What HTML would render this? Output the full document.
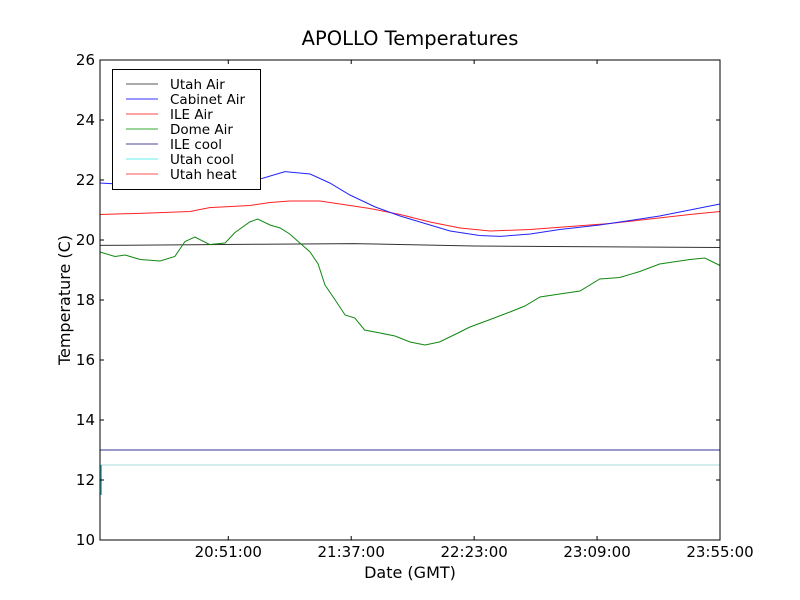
<!DOCTYPE html>
<html><head><meta charset="utf-8"><style>
body{margin:0;background:#fff}
svg{display:block;font-family:"DejaVu Sans","Liberation Sans",sans-serif}
</style></head><body>
<svg id="chart" width="800" height="600">
<rect width="800" height="600" fill="#fff"/>
<text x="410" y="45" font-size="19.5" text-anchor="middle">APOLLO Temperatures</text>
<text x="410" y="578" font-size="16" text-anchor="middle">Date (GMT)</text>
<text transform="translate(70,300) rotate(-90)" font-size="16" text-anchor="middle">Temperature (C)</text>
<g id="series"></g>
<g id="axes"></g>
<rect x="100" y="60" width="620" height="480" fill="none" stroke="#000" stroke-width="1"/>
<g>
<rect x="112.5" y="69.5" width="148" height="120" fill="#fff" stroke="#000"/>
<g id="legend" font-size="13.5"></g>
</g>
</svg>
<script>
const yTicks=[10,12,14,16,18,20,22,24,26];
const xTickMinutes=[48,94,140,186,232];
const xTickLabels=["20:51:00","21:37:00","22:23:00","23:09:00","23:55:00"];
const utahAirT=[0,60,95,140,232];
const utahAirV=[19.82,19.86,19.88,19.8,19.75];
const cabinetT=[0,4,20,60.6,69.2,78.6,86,93.5,103,112.3,123.5,131,142,149.7,161,172,187,198.3,209.4,220.7,232];
const cabinetV=[21.9,21.88,21.9,22.05,22.28,22.2,21.9,21.5,21.1,20.8,20.5,20.3,20.15,20.12,20.2,20.35,20.5,20.65,20.8,21.0,21.2];
const ileAirT=[0,18.7,33.7,41,56,63.6,71,82.3,89.8,101,112.3,123.5,134.7,146,161,175.8,190.8,205.8,220.7,232];
const ileAirV=[20.85,20.9,20.95,21.08,21.15,21.25,21.3,21.3,21.2,21.05,20.85,20.6,20.4,20.3,20.35,20.45,20.55,20.7,20.85,20.95];
const domeT=[0,5.6,9.4,15,22.5,28,31.8,35.5,41,46.8,50.5,56,59,63.6,67.4,71,74.8,78.6,81.6,84.2,88,91.7,95.4,99,104.8,110.4,116,121.6,127,132.8,138.4,146,153.4,159,164.6,172,179.6,187,194.5,202,209.4,220.7,226.3,232];
const domeV=[19.6,19.45,19.5,19.35,19.3,19.45,19.95,20.1,19.85,19.9,20.25,20.6,20.7,20.5,20.4,20.2,19.9,19.6,19.2,18.5,18.0,17.5,17.4,17.0,16.9,16.8,16.6,16.5,16.6,16.85,17.1,17.35,17.6,17.8,18.1,18.2,18.3,18.7,18.75,18.95,19.2,19.35,19.4,19.15];
const ileCoolT=[0,232];
const ileCoolV=[13,13];
const utahCoolT=[0,0,232];
const utahCoolV=[11.5,12.5,12.5];
const legendLabels=["Utah Air","Cabinet Air","ILE Air","Dome Air","ILE cool","Utah cool","Utah heat"];
const legendColors=["#555","#3333ff","#ff4444","#33aa33","#444499","#66eeee","#ff5555"];

const NS="http://www.w3.org/2000/svg";
const X0=100,X1=720,Y0=540,Y1=60,TMAX=232,VMIN=10,VMAX=26;
const xs=t=>X0+(t/TMAX)*(X1-X0);
const ys=v=>Y0-(v-VMIN)/(VMAX-VMIN)*(Y0-Y1);
function mk(tag,attrs,parent){const e=document.createElementNS(NS,tag);for(const k in attrs)e.setAttribute(k,attrs[k]);parent.appendChild(e);return e;}
const axes=document.getElementById('axes');
yTicks.forEach(v=>{
  const y=ys(v);
  const l=mk('path',{d:`M100,${y}h4M720,${y}h-4`,stroke:'#000'},axes);
  
  
  const t=mk('text',{x:95,y:y+5,'font-size':15,'text-anchor':'end'},axes);
  t.textContent=v;
  
  
});
xTickMinutes.forEach((m,i)=>{
  const x=xs(m);
  const l=mk('path',{d:`M${x},540v-4M${x},60v4`,stroke:'#000'},axes);
  
  
  const t=mk('text',{x:x,y:557,'font-size':15,'text-anchor':'middle'},axes);
  t.textContent=xTickLabels[i];
  
  
});
const g=document.getElementById('series');
function line(T,V,color,name,w){
  const d=T.map((t,i)=>(i?'L':'M')+xs(t).toFixed(1)+','+ys(V[i]).toFixed(1)).join('');
  const p=mk('path',{d:d,fill:'none',stroke:color,'stroke-width':w||1},g);
  
  
}
line(utahCoolT,utahCoolV,'#aadddd','utah-cool-line');
line(ileCoolT,ileCoolV,'#333399','ile-cool-line');
line(utahAirT,utahAirV,'#333','utah-air-line');
line(domeT,domeV,'#118811','dome-air-line');
line(ileAirT,ileAirV,'#ff2222','ile-air-line');
line(cabinetT,cabinetV,'#2222ff','cabinet-air-line');
const edge=mk('line',{x1:101,x2:101,y1:ys(12.5),y2:ys(11.5),stroke:'#33cccc','stroke-width':2},g);


const lg=document.getElementById('legend');
legendLabels.forEach((lab,i)=>{
  const y=84+i*15;
  const l=mk('line',{x1:126,x2:158,y1:y,y2:y,stroke:legendColors[i]},lg);
  
  
  const t=mk('text',{x:170,y:y+5},lg);
  t.textContent=lab;
  
  
});
</script>
</body></html>
